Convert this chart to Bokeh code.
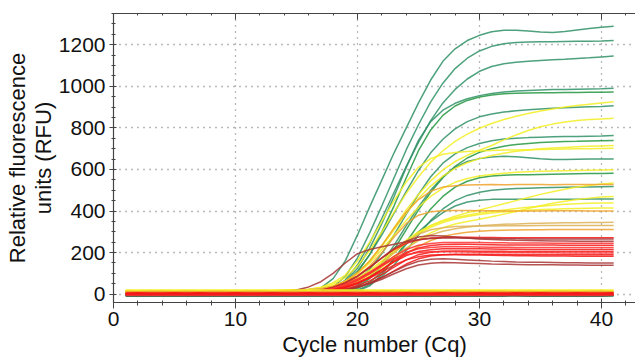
from bokeh.plotting import figure
from bokeh.models import SingleIntervalTicker, LinearAxis, Range1d
from bokeh.embed import file_html
from bokeh.resources import INLINE

# ---------------- data (RFU per cycle, cycles 1..41) ----------------
cycles = [1, 2, 3, 4, 5, 6, 7, 8, 9, 10, 11, 12, 13, 14, 15, 16, 17, 18, 19, 20,
          21, 22, 23, 24, 25, 26, 27, 28, 29, 30, 31, 32, 33, 34, 35, 36, 37, 38, 39, 40, 41]

x_ticks_interval = 10
y_ticks_interval = 200
x_label = "Cycle number (Cq)"
y_label = "Relative fluorescence\nunits (RFU)"

# green wells
g1 = [-2, -1, -2, -2, -1, -2, -2, -1, -2, -1, -1, 0, 0, 1, 3,
      10, 30, 75, 160, 285, 420, 550, 680, 800, 920, 1030, 1120, 1180, 1220, 1245, 1262, 1270, 1270, 1266, 1261, 1259, 1264, 1271, 1278, 1284, 1289]
g2 = [-3, -3, -2, -3, -2, -3, -3, -2, -2, -3, -2, -2, -1, 0, 1,
      4, 12, 35, 85, 175, 295, 425, 560, 695, 815, 925, 1015, 1085, 1135, 1170, 1192, 1205, 1211, 1213, 1214, 1214, 1215, 1216, 1217, 1218, 1220]
g3 = [-4, -3, -4, -3, -3, -4, -3, -3, -4, -3, -3, -2, -2, -1, 0,
      3, 10, 28, 68, 140, 245, 365, 490, 615, 730, 835, 920, 985, 1035, 1072, 1095, 1108, 1115, 1120, 1124, 1127, 1130, 1134, 1137, 1141, 1145]
g4 = [-2, -2, -1, -2, -2, -1, -2, -2, -1, -2, -1, -1, 0, 0, 1,
      3, 9, 25, 60, 125, 220, 340, 470, 610, 740, 830, 885, 918, 940, 955, 965, 972, 977, 980, 982, 984, 985, 986, 987, 988, 990]
g5 = [-3, -2, -3, -3, -2, -3, -2, -3, -2, -2, -2, -1, -1, 0, 0,
      2, 7, 20, 48, 105, 190, 300, 425, 560, 690, 790, 860, 905, 932, 948, 958, 964, 967, 968, 969, 969, 970, 970, 971, 971, 972]
g6 = [-1, -1, -2, -1, -1, -2, -1, -1, -1, -1, 0, 0, 1, 1, 2,
      4, 10, 24, 55, 110, 190, 285, 390, 495, 595, 680, 745, 795, 830, 853, 867, 876, 882, 887, 891, 894, 897, 899, 901, 903, 906]
g7 = [-5, -4, -5, -5, -4, -5, -4, -5, -4, -4, -4, -3, -3, -3, -2,
      0, 4, 12, 30, 65, 120, 195, 285, 385, 480, 565, 630, 675, 705, 725, 738, 746, 750, 753, 755, 757, 758, 759, 760, 761, 763]
g8 = [-4, -4, -3, -4, -4, -3, -4, -3, -4, -3, -3, -3, -2, -2, -2,
      -1, 1, 5, 14, 35, 75, 135, 215, 310, 405, 490, 560, 615, 655, 682, 700, 712, 720, 725, 729, 732, 734, 735, 737, 738, 739]
g9 = [-3, -3, -3, -2, -3, -3, -2, -3, -3, -2, -2, -2, -2, -1, -1,
      0, 2, 7, 18, 42, 85, 150, 235, 330, 420, 500, 565, 610, 638, 652, 660, 663, 661, 656, 651, 648, 648, 649, 650, 650, 650]
g10 = [-4, -5, -4, -4, -5, -4, -4, -5, -4, -4, -4, -4, -3, -3, -3,
       -2, 0, 4, 12, 28, 58, 105, 170, 250, 335, 410, 470, 515, 543, 560, 568, 572, 574, 575, 576, 577, 578, 579, 580, 581, 582]
g11 = [-5, -5, -4, -5, -5, -4, -5, -5, -4, -4, -4, -4, -4, -3, -3,
       -2, -1, 2, 8, 20, 45, 85, 140, 210, 285, 355, 410, 450, 475, 490, 500, 505, 508, 510, 512, 513, 514, 515, 516, 517, 518]
g12 = [-6, -5, -6, -6, -5, -6, -5, -6, -5, -5, -5, -5, -4, -4, -4,
       -3, -1, 2, 6, 15, 40, 95, 170, 240, 300, 350, 392, 424, 443, 452, 456, 457, 457, 456, 456, 456, 457, 457, 458, 458, 458]

# yellow wells
y1 = [15, 16, 15, 15, 16, 15, 15, 16, 15, 15, 16, 16, 17, 18, 20,
      24, 32, 48, 80, 135, 210, 300, 395, 485, 565, 635, 690, 735, 770, 798, 821, 840, 856, 869, 881, 891, 900, 908, 914, 920, 925]
y2 = [14, 14, 15, 14, 14, 15, 14, 14, 15, 14, 15, 15, 16, 17, 18,
      21, 27, 38, 60, 100, 160, 235, 320, 405, 480, 545, 598, 638, 668, 692, 715, 742, 766, 787, 805, 818, 828, 835, 840, 843, 846]
y3 = [16, 15, 16, 16, 15, 16, 16, 15, 16, 16, 16, 17, 17, 18, 19,
      22, 28, 40, 62, 102, 160, 230, 310, 390, 460, 520, 568, 605, 632, 652, 667, 678, 687, 694, 699, 703, 706, 709, 711, 713, 715]
y4 = [13, 14, 13, 13, 14, 13, 14, 13, 13, 14, 14, 14, 15, 16, 18,
      23, 33, 55, 92, 160, 250, 350, 450, 540, 610, 652, 673, 682, 686, 689, 691, 693, 694, 695, 696, 697, 698, 699, 700, 701, 702]
y5 = [15, 15, 14, 15, 15, 14, 15, 15, 14, 15, 15, 15, 16, 17, 19,
      22, 28, 40, 62, 98, 150, 215, 285, 355, 418, 470, 510, 538, 556, 568, 576, 582, 586, 589, 591, 593, 594, 595, 596, 597, 598]
y6 = [16, 16, 17, 16, 16, 17, 16, 16, 17, 16, 16, 17, 17, 18, 19,
      21, 25, 32, 45, 68, 102, 148, 200, 250, 295, 330, 355, 375, 392, 405, 420, 435, 450, 465, 480, 493, 505, 515, 523, 530, 535]
y7 = [14, 15, 14, 14, 15, 14, 14, 15, 14, 14, 15, 15, 15, 16, 17,
      19, 23, 30, 42, 62, 92, 130, 175, 220, 262, 295, 320, 338, 350, 360, 372, 385, 398, 412, 425, 437, 447, 455, 462, 467, 470]
y8 = [15, 14, 15, 15, 14, 15, 15, 14, 15, 15, 15, 15, 16, 17, 18,
      21, 26, 36, 52, 78, 115, 160, 210, 260, 300, 330, 352, 368, 380, 390, 398, 405, 412, 418, 423, 428, 432, 435, 437, 438, 439]
y9 = [13, 13, 14, 13, 13, 14, 13, 13, 14, 13, 14, 14, 14, 15, 16,
      19, 24, 33, 48, 72, 108, 152, 200, 248, 290, 322, 345, 362, 374, 383, 390, 396, 400, 404, 407, 409, 411, 412, 413, 414, 415]
y10 = [16, 15, 16, 16, 15, 16, 16, 15, 16, 16, 16, 16, 17, 18, 19,
       22, 27, 36, 50, 72, 102, 140, 182, 222, 258, 285, 303, 315, 323, 329, 333, 336, 338, 340, 341, 342, 343, 344, 345, 345, 346]

# orange wells
o1 = [8, 9, 8, 8, 9, 8, 8, 9, 8, 8, 9, 9, 10, 11, 13,
      17, 24, 38, 62, 102, 160, 235, 318, 395, 455, 495, 515, 522, 525, 526, 527, 526, 527, 528, 527, 526, 527, 528, 527, 527, 527]
o2 = [9, 8, 9, 9, 8, 9, 9, 8, 9, 9, 9, 10, 10, 11, 13,
      16, 22, 33, 52, 85, 135, 200, 275, 340, 380, 396, 401, 402, 402, 401, 401, 400, 400, 400, 400, 401, 401, 401, 400, 400, 400]
o3 = [7, 8, 7, 7, 8, 7, 7, 8, 7, 7, 8, 8, 9, 10, 12,
      15, 20, 29, 44, 68, 102, 148, 200, 250, 288, 310, 320, 325, 327, 328, 328, 329, 329, 329, 330, 330, 330, 330, 330, 330, 330]
o4 = [10, 10, 11, 10, 10, 11, 10, 10, 11, 10, 11, 11, 11, 12, 13,
      15, 19, 26, 38, 56, 82, 116, 155, 195, 230, 258, 277, 290, 298, 303, 306, 308, 309, 310, 310, 311, 311, 311, 311, 311, 311]

# red wells
r1 = [3, 2, 3, 3, 2, 3, 2, 3, 3, 2, 3, 3, 4, 5, 7,
      11, 19, 33, 55, 88, 130, 175, 215, 245, 262, 270, 273, 274, 274, 273, 273, 272, 272, 272, 272, 271, 271, 271, 271, 271, 271]
r2 = [2, 3, 2, 2, 3, 2, 3, 2, 2, 3, 2, 3, 3, 4, 6,
      10, 18, 32, 54, 86, 128, 175, 220, 255, 275, 282, 280, 275, 270, 266, 263, 261, 259, 258, 257, 256, 256, 255, 255, 255, 255]
r3 = [1, 2, 1, 1, 2, 1, 2, 1, 1, 2, 1, 2, 2, 3, 5,
      8, 14, 25, 42, 68, 102, 142, 182, 215, 235, 244, 248, 249, 249, 248, 247, 247, 246, 246, 246, 245, 245, 245, 245, 245, 245]
r4 = [2, 1, 2, 2, 1, 2, 1, 2, 2, 1, 2, 2, 3, 4, 5,
      7, 11, 18, 30, 50, 80, 118, 160, 198, 222, 234, 239, 240, 240, 239, 238, 237, 237, 236, 236, 236, 235, 235, 235, 235, 235]
r5 = [0, 1, 0, 0, 1, 0, 1, 0, 0, 1, 0, 1, 1, 2, 4,
      7, 13, 23, 40, 65, 98, 135, 172, 202, 218, 225, 228, 229, 228, 227, 226, 226, 225, 225, 225, 225, 225, 225, 225, 225, 225]
r6 = [3, 3, 2, 3, 3, 2, 3, 3, 2, 3, 3, 3, 4, 5, 6,
      9, 14, 22, 35, 55, 83, 118, 155, 186, 205, 214, 218, 219, 219, 218, 217, 216, 216, 215, 215, 215, 215, 215, 215, 215, 215]
r7 = [1, 0, 1, 1, 0, 1, 0, 1, 1, 0, 1, 1, 2, 3, 4,
      6, 9, 15, 25, 41, 64, 95, 130, 165, 190, 202, 207, 208, 208, 207, 206, 206, 205, 205, 205, 205, 205, 205, 205, 205, 205]
r8 = [2, 2, 1, 2, 2, 1, 2, 2, 1, 2, 2, 2, 3, 4, 6,
      10, 17, 29, 48, 74, 106, 140, 170, 190, 200, 204, 205, 204, 203, 202, 201, 200, 200, 199, 199, 199, 198, 198, 198, 198, 198]
r9 = [0, 0, 1, 0, 0, 1, 0, 0, 1, 0, 1, 1, 1, 2, 3,
      5, 8, 13, 21, 34, 53, 80, 112, 145, 170, 184, 190, 192, 192, 192, 191, 191, 191, 190, 190, 190, 190, 190, 190, 190, 190]
r10 = [1, 1, 2, 1, 1, 2, 1, 1, 2, 1, 2, 2, 2, 3, 5,
       8, 13, 21, 34, 53, 78, 108, 140, 165, 180, 188, 190, 190, 189, 188, 187, 186, 185, 185, 184, 184, 184, 183, 183, 183, 183]
r11 = [1, 2, 1, 1, 2, 1, 2, 1, 1, 2, 1, 2, 2, 3, 4,
       6, 9, 14, 22, 35, 54, 80, 110, 138, 158, 168, 170, 168, 165, 162, 159, 157, 155, 154, 153, 152, 151, 151, 150, 150, 150]
dr1 = [4, 4, 3, 4, 4, 3, 4, 4, 3, 4, 5, 6, 8, 12, 20,
       35, 60, 100, 150, 195, 215, 228, 240, 252, 262, 268, 270, 270, 269, 268, 268, 267, 267, 266, 266, 265, 265, 265, 265, 265, 265]
dr2 = [-2, -2, -1, -2, -2, -1, -2, -2, -1, -2, -1, -1, 0, 1, 2,
       4, 7, 12, 20, 32, 50, 72, 98, 122, 140, 149, 152, 151, 149, 147, 145, 144, 143, 142, 141, 141, 140, 140, 139, 139, 139]

# non-amplifying wells (flat)
fy = [18, 17, 18, 18, 17, 18, 17, 18, 18, 17, 18, 18, 17, 18, 18, 17, 18, 18, 17, 18,
      17, 18, 18, 17, 18, 18, 17, 18, 18, 17, 18, 18, 17, 18, 17, 18, 18, 17, 18, 18, 17]
fo = [10, 9, 10, 10, 9, 10, 9, 10, 10, 9, 10, 10, 9, 10, 10, 9, 10, 10, 9, 10,
      9, 10, 10, 9, 10, 10, 9, 10, 10, 9, 10, 10, 9, 10, 9, 10, 10, 9, 10, 10, 9]
fr = [3, 4, 3, 3, 4, 3, 4, 3, 3, 4, 3, 3, 4, 3, 3, 4, 3, 3, 4, 3,
      4, 3, 3, 4, 3, 3, 4, 3, 3, 4, 3, 3, 4, 3, 4, 3, 3, 4, 3, 3, 4]
fr2 = [-1, 0, -1, -1, 0, -1, 0, -1, -1, 0, -1, -1, 0, -1, -1, 0, -1, -1, 0, -1,
       0, -1, -1, 0, -1, -1, 0, -1, -1, 0, -1, -1, 0, -1, 0, -1, -1, 0, -1, -1, 0]
fdr = [-4, -3, -4, -4, -3, -4, -3, -4, -4, -3, -4, -4, -3, -4, -4, -3, -4, -4, -3, -4,
       -3, -4, -4, -3, -4, -4, -3, -4, -4, -3, -4, -4, -3, -4, -3, -4, -4, -3, -4, -4, -3]
fg = [-7, -6, -7, -7, -6, -7, -6, -7, -7, -6, -7, -7, -6, -7, -7, -6, -7, -7, -6, -7,
      -6, -7, -7, -6, -7, -7, -6, -7, -7, -6, -7, -7, -6, -7, -6, -7, -7, -6, -7, -7, -6]

# ---------------- styling ----------------
GREEN = "#2f9066"
GREEN2 = "#22963f"
YELLOW = "#f3ee22"
ORANGE = "#eea22c"
TAN = "#ddb256"
RED = "#f41616"
RED2 = "#ff3030"
DRED = "#a83434"

curves = [
    (g1, GREEN), (g2, GREEN), (g3, GREEN), (g4, GREEN), (g5, GREEN2), (g6, GREEN),
    (g7, GREEN), (g8, GREEN2), (g9, GREEN), (g10, GREEN2), (g11, GREEN), (g12, GREEN),
    (y1, YELLOW), (y2, YELLOW), (y3, YELLOW), (y4, YELLOW), (y5, YELLOW), (y6, YELLOW),
    (y7, YELLOW), (y8, YELLOW), (y9, YELLOW), (y10, TAN),
    (o1, ORANGE), (o2, ORANGE), (o3, TAN), (o4, ORANGE),
    (r1, RED), (r2, DRED), (r3, RED2), (r4, RED), (r5, RED2), (r6, RED), (r7, RED),
    (r8, RED2), (r9, RED), (r10, RED), (r11, DRED), (dr1, DRED), (dr2, DRED),
]
flats = [(fg, "#2d7a4c"), (fdr, DRED), (fy, YELLOW), (fo, ORANGE), (fr2, RED2), (fr, RED)]

FONT = "Liberation Sans"
AX = "#444444"

p = figure(width=635, height=359, x_range=Range1d(0, 42.79), y_range=Range1d(-40, 1350),
           output_backend="svg", toolbar_location=None, title=None,
           min_border_left=113, min_border_right=0, min_border_top=13, min_border_bottom=56)
p.outline_line_color = None
p.background_fill_color = "white"
p.border_fill_color = "white"

for series, col in curves:
    p.line(cycles, series, line_color=col, line_width=1.5, line_alpha=0.85)
for series, col in flats:
    p.line(cycles, series, line_color=col, line_width=2.6, line_alpha=0.95)

xt = SingleIntervalTicker(interval=x_ticks_interval, num_minor_ticks=5)
yt = SingleIntervalTicker(interval=y_ticks_interval, num_minor_ticks=4)

for ax in p.xaxis:
    ax.ticker = xt
    ax.axis_label = x_label
    ax.major_tick_in = 4
    ax.major_tick_out = 6
    ax.minor_tick_in = 2
    ax.minor_tick_out = 3
    ax.major_label_standoff = 3
    ax.axis_label_standoff = 3
for ax in p.yaxis:
    ax.ticker = yt
    ax.axis_label = y_label
    ax.major_tick_in = 3
    ax.major_tick_out = 4
    ax.minor_tick_in = 2
    ax.minor_tick_out = 2
    ax.major_label_standoff = 4
    ax.axis_label_standoff = 0
    ax.axis_label_text_line_height = 1.05

for ax in list(p.xaxis) + list(p.yaxis):
    ax.axis_line_color = AX
    ax.axis_line_width = 1.2
    ax.major_tick_line_color = AX
    ax.minor_tick_line_color = AX
    ax.major_label_text_font = FONT
    ax.major_label_text_font_size = "21px"
    ax.major_label_text_color = "#111111"
    ax.axis_label_text_font = FONT
    ax.axis_label_text_font_size = "22px"
    ax.axis_label_text_font_style = "normal"
    ax.axis_label_text_color = "#111111"

top = LinearAxis(ticker=SingleIntervalTicker(interval=x_ticks_interval, num_minor_ticks=5),
                 major_label_text_color=None, major_label_text_font_size="1px",
                 major_label_standoff=0,
                 major_tick_in=6, major_tick_out=0, minor_tick_in=2, minor_tick_out=0,
                 axis_line_color=AX, axis_line_width=1.2,
                 major_tick_line_color=AX, minor_tick_line_color=AX)
p.add_layout(top, "above")

p.xgrid.ticker = xt
p.ygrid.ticker = yt
for g in list(p.xgrid) + list(p.ygrid):
    g.grid_line_color = "#666666"
    g.grid_line_dash = "1 5"
    g.grid_line_width = 1.3
    g.grid_line_alpha = 0.9

open("out.html", "w").write(file_html(p, INLINE))
